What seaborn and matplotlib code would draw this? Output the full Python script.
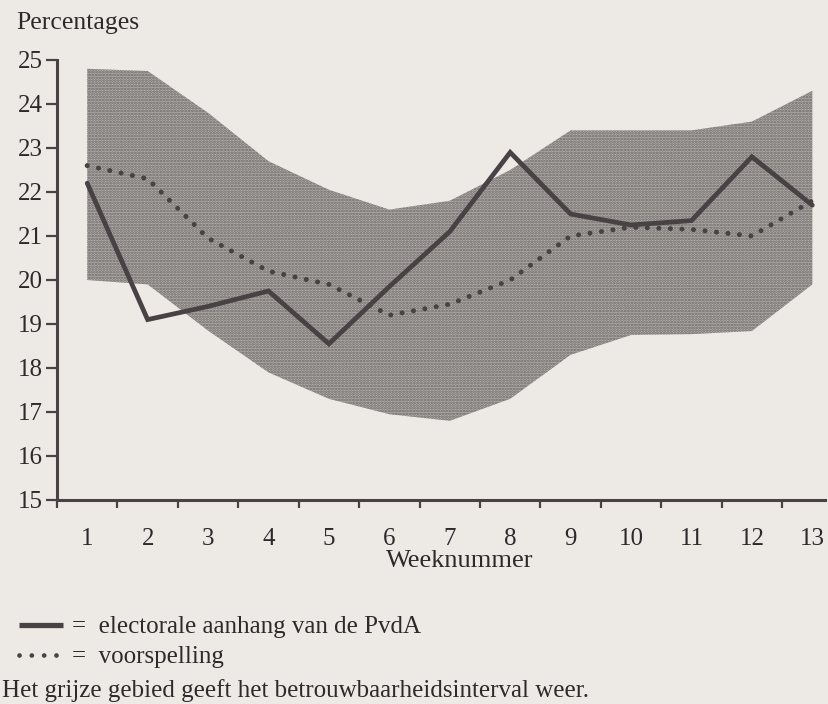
import numpy as np
import pandas as pd
import seaborn as sns
import matplotlib.pyplot as plt
from matplotlib.lines import Line2D

# values (percentages per week)
weeks = list(range(1, 14))
aanhang = [22.2, 19.1, 19.4, 19.75, 18.55, 19.85, 21.1, 22.9, 21.5, 21.25, 21.35, 22.8, 21.7]
voorspelling = [22.6, 22.3, 20.95, 20.2, 19.9, 19.2, 19.45, 20.0, 21.0, 21.2, 21.15, 21.0, 21.8]
band_upper = [24.8, 24.75, 23.8, 22.7, 22.05, 21.6, 21.8, 22.5, 23.4, 23.4, 23.4, 23.6, 24.3]
band_lower = [20.0, 19.9, 18.85, 17.9, 17.3, 16.95, 16.8, 17.3, 18.3, 18.75, 18.77, 18.84, 19.9]
y_ticks = list(range(15, 26))

PAPER = '#edeae6'
INK = '#484244'
TEXT = '#2e2a2b'

df = pd.DataFrame({
    'week': weeks,
    'aanhang': aanhang,
    'voorspelling': voorspelling,
    'upper': band_upper,
    'lower': band_lower,
})

sns.set_style('ticks')
plt.rcParams['font.family'] = ['Liberation Serif', 'DejaVu Serif']
plt.rcParams['hatch.linewidth'] = 1.3
plt.rcParams['hatch.color'] = '#555151'

fig = plt.figure(figsize=(8.29, 7.04), dpi=100, facecolor=PAPER)
ax = fig.add_axes([57 / 829, 1 - 500 / 704, (825 - 57) / 829, (500 - 60) / 704])
ax.set_facecolor(PAPER)

# grey confidence band with a halftone-like dot pattern
ax.fill_between(df['week'], df['lower'], df['upper'], facecolor='#b3b0ad',
                edgecolor='#6a6664', hatch='.' * 6, linewidth=0, zorder=1)

sns.lineplot(data=df, x='week', y='aanhang', ax=ax, color=INK, linewidth=3.4,
             solid_joinstyle='miter', zorder=3)
sns.lineplot(data=df, x='week', y='voorspelling', ax=ax, color=INK, linewidth=3.6,
             linestyle=(0, (0.01, 2.3)), dash_capstyle='round', zorder=3)

ax.set_xlim(0.5, 13.21)
ax.set_ylim(15, 25)
ax.set_xlabel('')
ax.set_ylabel('')

for side in ['top', 'right']:
    ax.spines[side].set_visible(False)
for side in ['left', 'bottom']:
    ax.spines[side].set_linewidth(2.2)
    ax.spines[side].set_color(INK)

ax.set_yticks(y_ticks)
ax.set_yticklabels([str(v) for v in y_ticks])
ax.set_xticks(weeks)
ax.set_xticklabels([str(w) for w in weeks])
ax.set_xticks(np.arange(0.5, 13, 1.0), minor=True)
ax.tick_params(axis='y', direction='out', length=8, width=1.6, color=INK,
               labelsize=18, labelcolor=TEXT, pad=2)
ax.tick_params(axis='x', which='major', length=0, labelsize=18,
               labelcolor=TEXT, pad=20)
ax.tick_params(axis='x', which='minor', direction='out', length=6, width=1.6, color=INK)

fig.text(16 / 829, 1 - 23 / 704, 'Percentages', fontsize=18.5, color=TEXT,
         ha='left', va='center')
fig.text(460 / 829, 1 - 561 / 704, 'Weeknummer', fontsize=19, color=TEXT,
         ha='center', va='center')

handles = [
    Line2D([], [], color=INK, linewidth=3.8, solid_capstyle='butt'),
    Line2D([], [], color=INK, linewidth=3.4, linestyle=(0, (0.01, 2.6)),
           dash_capstyle='round'),
]
labels = ['=  electorale aanhang van de PvdA', '=  voorspelling']
fig.legend(handles, labels, loc='upper left', bbox_to_anchor=(19 / 829, 1 - 616 / 704),
           frameon=False, fontsize=18, handlelength=1.75, handletextpad=0.35,
           borderpad=0, borderaxespad=0, labelspacing=0.3, labelcolor=TEXT)
fig.text(2 / 829, 1 - 697 / 704, 'Het grijze gebied geeft het betrouwbaarheidsinterval weer.',
         fontsize=18, color=TEXT, ha='left', va='baseline')

fig.savefig('out.png', dpi=100, facecolor=PAPER)
